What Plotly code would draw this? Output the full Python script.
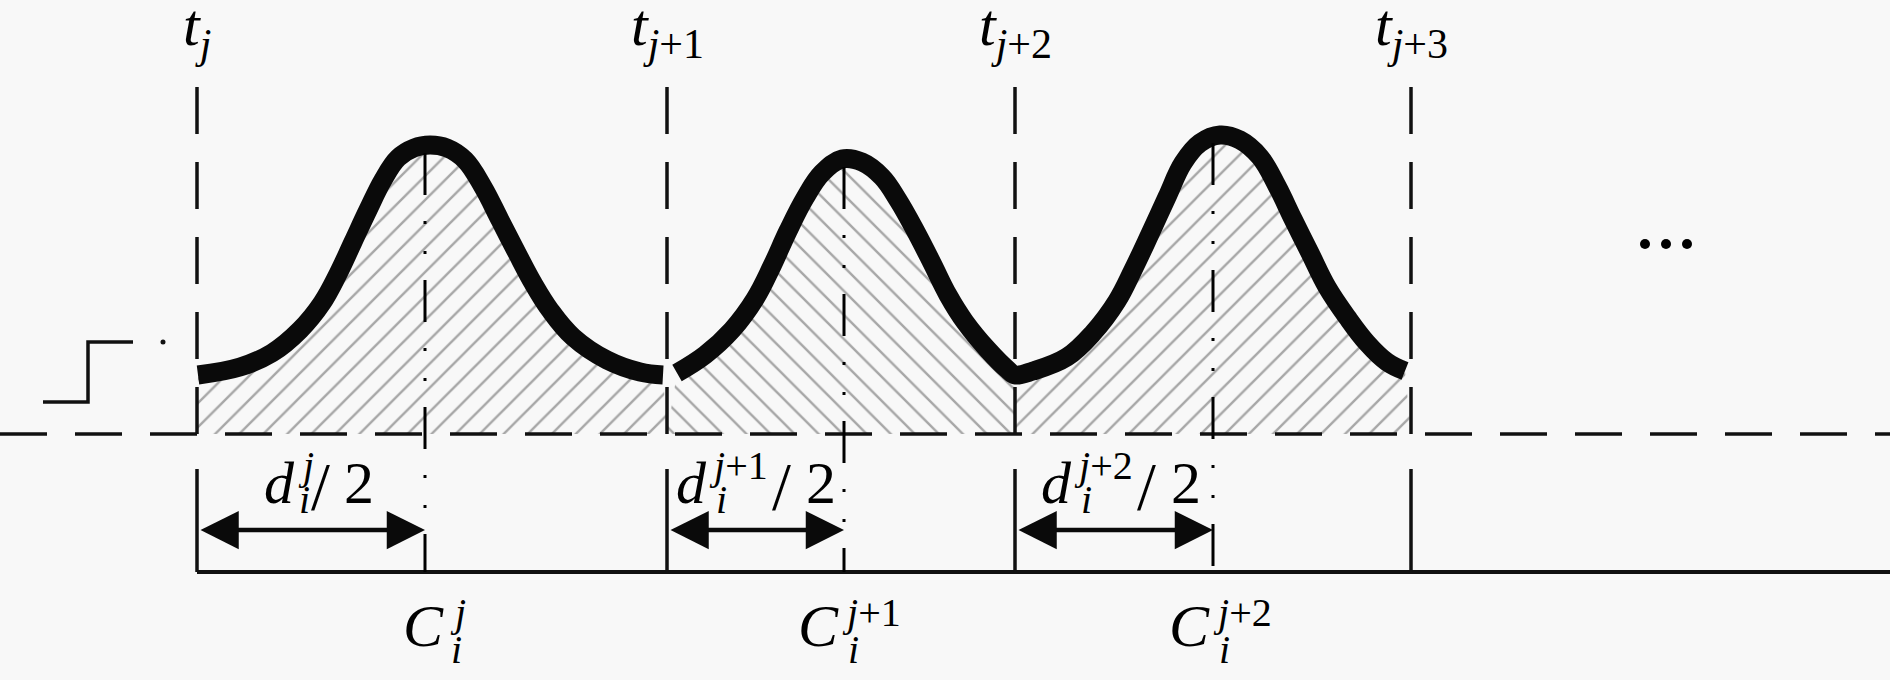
import plotly.graph_objects as go

# page / canvas in pixel-like units (y grows downward)
W, H = 1890, 680
BG = "#f8f8f8"
FONT = "Liberation Serif"

# boundaries t_j ... t_j+3 and their labels
T_X = [197, 667, 1015, 1411]
T_LABELS = [
    "<i>t</i><sub><i>j</i></sub>",
    "<i>t</i><sub><i>j</i>+1</sub>",
    "<i>t</i><sub><i>j</i>+2</sub>",
    "<i>t</i><sub><i>j</i>+3</sub>",
]

# centres C_i^j of the three bumps
CENTER_X = [425, 844, 1213]
CENTER_TOP = [153, 167, 143]
SUP_LABELS = ["<i>j</i>", "<i>j</i>+1", "<i>j</i>+2"]

X1 = [198, 240, 272, 300, 322, 338, 353, 368, 383, 398, 414, 430, 447, 465, 483, 500, 517, 533, 550, 573, 607, 640, 663]
Y1 = [375, 367, 353, 330, 303, 274, 242, 210, 180, 158, 148, 145, 148, 160, 187, 220, 253, 283, 310, 337, 360, 372, 375]
X2 = [677, 705, 732, 755, 772, 788, 805, 822, 842, 862, 882, 898, 915, 932, 948, 965, 988, 1008, 1015]
Y2 = [373, 355, 330, 299, 266, 231, 198, 173, 159, 162, 177, 200, 230, 263, 295, 322, 350, 370, 375]
X3 = [1015, 1033, 1067, 1093, 1117, 1133, 1150, 1167, 1183, 1200, 1220, 1240, 1260, 1277, 1293, 1310, 1327, 1347, 1367, 1387, 1405]
Y3 = [375, 371, 357, 333, 301, 270, 234, 197, 163, 143, 135, 140, 157, 186, 219, 253, 287, 317, 343, 362, 371]
HATCH = ["/", "\\", "/"]

BASE_Y = 434      # dashed reference level
BOTTOM_Y = 572    # solid time axis
ARROW_Y = 530
SMOOTH = 1.1

fig = go.Figure()

# hatched areas between the curve and the dashed level (t_k .. t_k+1)
bumps = [(X1, Y1), (X2, Y2), (X3, Y3)]
for k, (xs, ys) in enumerate(bumps):
    fig.add_trace(go.Scatter(x=[T_X[k], T_X[k + 1]], y=[BASE_Y, BASE_Y], mode="lines",
                             line=dict(width=0), hoverinfo="skip"))
    fig.add_trace(go.Scatter(
        x=xs, y=ys, mode="lines", line=dict(width=0, shape="spline", smoothing=SMOOTH),
        fill="tonexty", fillcolor="rgba(0,0,0,0)",
        fillpattern=dict(shape=HATCH[k], size=17, solidity=0.14,
                         fgcolor="#555555", bgcolor=BG),
        hoverinfo="skip"))

# the thick curve
fig.add_trace(go.Scatter(x=X1, y=Y1, mode="lines",
                         line=dict(color="#0a0a0a", width=19, shape="spline", smoothing=SMOOTH)))
fig.add_trace(go.Scatter(x=X2 + X3[1:], y=Y2 + Y3[1:], mode="lines",
                         line=dict(color="#0a0a0a", width=19, shape="spline", smoothing=SMOOTH)))

# "..." continuation dots
fig.add_trace(go.Scatter(x=[1645, 1666, 1687], y=[244, 244, 244], mode="markers",
                         marker=dict(color="black", size=10)))

dash_long = "47px,28px"
line_k = "#111111"

# horizontal dashed level and bottom axis
fig.add_shape(type="line", x0=0, x1=W, y0=BASE_Y, y1=BASE_Y,
              line=dict(color=line_k, width=3.5, dash=dash_long))
fig.add_shape(type="line", x0=T_X[0], x1=W, y0=BOTTOM_Y, y1=BOTTOM_Y,
              line=dict(color=line_k, width=4))

# vertical t lines: dashed above the level, solid below
for x in T_X:
    fig.add_shape(type="line", x0=x, x1=x, y0=87, y1=BASE_Y + 2,
                  line=dict(color=line_k, width=3.5, dash=dash_long))
    fig.add_shape(type="line", x0=x, x1=x, y0=469, y1=BOTTOM_Y,
                  line=dict(color=line_k, width=3.5))

# dash-dot centre lines
for x, y0 in zip(CENTER_X, CENTER_TOP):
    fig.add_shape(type="line", x0=x, x1=x, y0=y0, y1=BOTTOM_Y,
                  line=dict(color="#000000", width=3,
                            dash="42px,26px,3px,27px,3px,26px"))

# step symbol on the left
fig.add_shape(type="path", path="M 43 402 L 88 402 L 88 342 L 133 342",
              line=dict(color=line_k, width=3.5))
fig.add_shape(type="circle", x0=160.5, x1=165.5, y0=339.5, y1=344.5,
              fillcolor=line_k, line=dict(width=0))

# double arrows d/2
for tx, cx in zip(T_X[:3], CENTER_X):
    fig.add_annotation(x=cx, y=ARROW_Y, ax=tx + 2, ay=ARROW_Y,
                       xref="x", yref="y", axref="x", ayref="y",
                       text="", showarrow=True, arrowside="end+start",
                       arrowhead=2, startarrowhead=2, arrowwidth=4.5,
                       arrowsize=1.7, startarrowsize=1.7, arrowcolor="#0a0a0a",
                       standoff=0, startstandoff=0)


def txt(x, baseline, s, size, xanchor="left"):
    # place text by its baseline (Liberation Serif ascent ~0.891 em);
    # y in paper units so labels near the top edge are never hidden
    top = baseline - 0.891 * size - 1
    fig.add_annotation(x=x, y=1 - top / H, xref="x", yref="paper",
                       text=s, showarrow=False, xanchor=xanchor, yanchor="top",
                       font=dict(family=FONT, size=size, color="black"))


# t labels
for x, lab in zip(T_X, T_LABELS):
    txt(x, 44, lab, 60, xanchor="center")

# d_i^j / 2 labels
D_POS = [[262, 296, 297, 309, 342],
         [674, 707, 714, 770, 804],
         [1039, 1072, 1079, 1135, 1169]]
for (xd, xsup, xsub, xsl, x2), sup in zip(D_POS, SUP_LABELS):
    txt(xd, 502, "<i>d</i>", 60)
    txt(xsup, 478, sup, 40)
    txt(xsub, 512, "<i>i</i>", 40)
    txt(xsl, 508, "/", 68)
    txt(x2, 502, "2", 60)

# C_i^j labels
C_POS = [[401, 448, 449], [796, 840, 846], [1167, 1211, 1217]]
for (xc, xsup, xsub), sup in zip(C_POS, SUP_LABELS):
    txt(xc, 645, "<i>C</i>", 60)
    txt(xsup, 625, sup, 40)
    txt(xsub, 662, "<i>i</i>", 40)

fig.update_layout(
    width=W, height=H, margin=dict(l=0, r=0, t=0, b=0),
    paper_bgcolor=BG, plot_bgcolor=BG, showlegend=False,
    xaxis=dict(range=[0, W], visible=False, fixedrange=True),
    yaxis=dict(range=[H, 0], visible=False, fixedrange=True),
)

fig.write_html(
    "out.html",
    config={"displayModeBar": False},
    post_script="document.body.style.margin='0px';"
                "document.body.style.background='%s';" % BG,
)
